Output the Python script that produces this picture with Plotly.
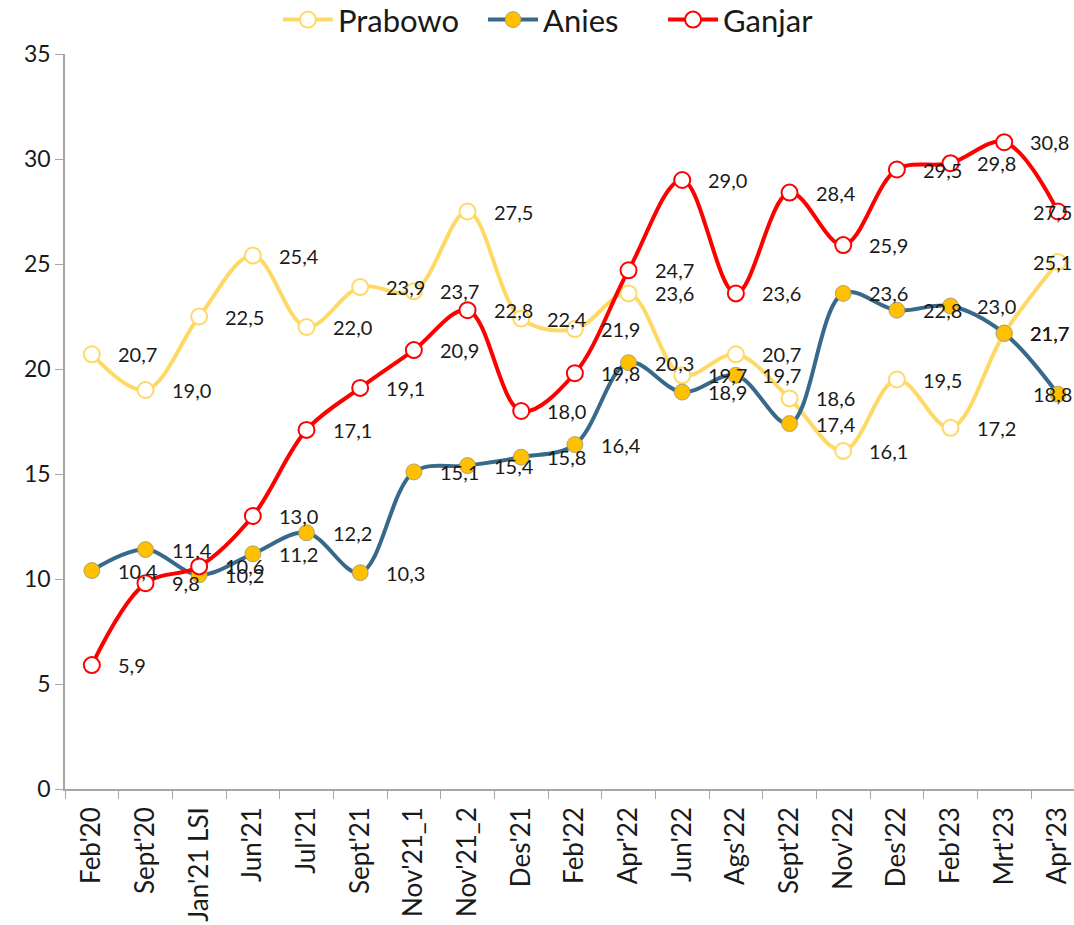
import plotly.graph_objects as go

categories = ["Feb'20", "Sept'20", "Jan'21 LSI", "Jun'21", "Jul'21", "Sept'21", "Nov'21_1",
              "Nov'21_2", "Des'21", "Feb'22", "Apr'22", "Jun'22", "Ags'22", "Sept'22",
              "Nov'22", "Des'22", "Feb'23", "Mrt'23", "Apr'23"]
prabowo = [20.7, 19.0, 22.5, 25.4, 22.0, 23.9, 23.7, 27.5, 22.4, 21.9, 23.6, 19.7, 20.7,
           18.6, 16.1, 19.5, 17.2, 21.7, 25.1]
anies = [10.4, 11.4, 10.2, 11.2, 12.2, 10.3, 15.1, 15.4, 15.8, 16.4, 20.3, 18.9, 19.7,
         17.4, 23.6, 22.8, 23.0, 21.7, 18.8]
ganjar = [5.9, 9.8, 10.6, 13.0, 17.1, 19.1, 20.9, 22.8, 18.0, 19.8, 24.7, 29.0, 23.6,
          28.4, 25.9, 29.5, 29.8, 30.8, 27.5]
y_ticks = [0, 5, 10, 15, 20, 25, 30, 35]

FONT = "Lato"
series = [
    ("Prabowo", prabowo, "#FFD966", "white", "#FFD966", "legend", 0.211),
    ("Anies", anies, "#376A8A", "#FFC000", "rgba(140,140,140,0.7)", "legend2", 0.4143),
    ("Ganjar", ganjar, "#FF0000", "white", "#FF0000", "legend3", 0.5927),
]

fig = go.Figure()
for name, vals, lc, mfill, mline, leg, lx in series:
    fig.add_trace(go.Scatter(
        x=categories, y=vals, name=name, mode="lines+markers",
        line=dict(color=lc, width=4, shape="spline", smoothing=1.0),
        marker=dict(size=16, color=mfill, line=dict(color=mline, width=2 if mfill == "white" else 1)),
        cliponaxis=False, legend=leg,
    ))

annotations = []
for name, vals, lc, mfill, mline, leg, lx in series:
    n = len(vals)
    for i, (c, v) in enumerate(zip(categories, vals)):
        last = i == n - 1
        annotations.append(dict(
            x=c, y=v, xref="x", yref="y",
            text=f"{v:.1f}".replace(".", ","),
            showarrow=False,
            xanchor="right" if last else "left",
            yanchor="middle",
            xshift=16 if last else 24,
            font=dict(family=FONT, size=20, color="#1a1a1a"),
        ))

legends = {}
for name, vals, lc, mfill, mline, leg, lx in series:
    legends[leg] = dict(orientation="h", x=lx, xanchor="left", y=1.0463, yanchor="middle",
                        font=dict(family=FONT, size=31, color="#1a1a1a"), itemwidth=50,
                        bgcolor="rgba(0,0,0,0)")

fig.update_layout(
    width=1074, height=925,
    margin=dict(l=65, r=0, t=54, b=136, autoexpand=False),
    paper_bgcolor="white", plot_bgcolor="white",
    font=dict(family=FONT, color="#1a1a1a"),
    showlegend=True,
    annotations=annotations,
    **legends,
)
fig.update_xaxes(
    type="category", range=[-0.5, 18.3], automargin=False,
    showline=True, linecolor="#A6A6A6", linewidth=1.5,
    ticks="outside", tickson="boundaries", ticklen=8, tickcolor="#A6A6A6",
    tickangle=-90, tickfont=dict(family=FONT, size=26, color="#1a1a1a"),
    ticklabelstandoff=6,
    showgrid=False, zeroline=False,
)
fig.update_yaxes(
    range=[0, 35], tickvals=y_ticks, automargin=False,
    showline=True, linecolor="#A6A6A6", linewidth=1.5,
    ticks="outside", ticklen=8, tickcolor="#A6A6A6",
    tickfont=dict(family=FONT, size=23, color="#1a1a1a"),
    showgrid=False, zeroline=False,
)

# Remove the default 8px page margin so the figure fills the window exactly.
fig.write_html("out.html", config={"displayModeBar": False},
               post_script="document.body.style.margin='0px';")
